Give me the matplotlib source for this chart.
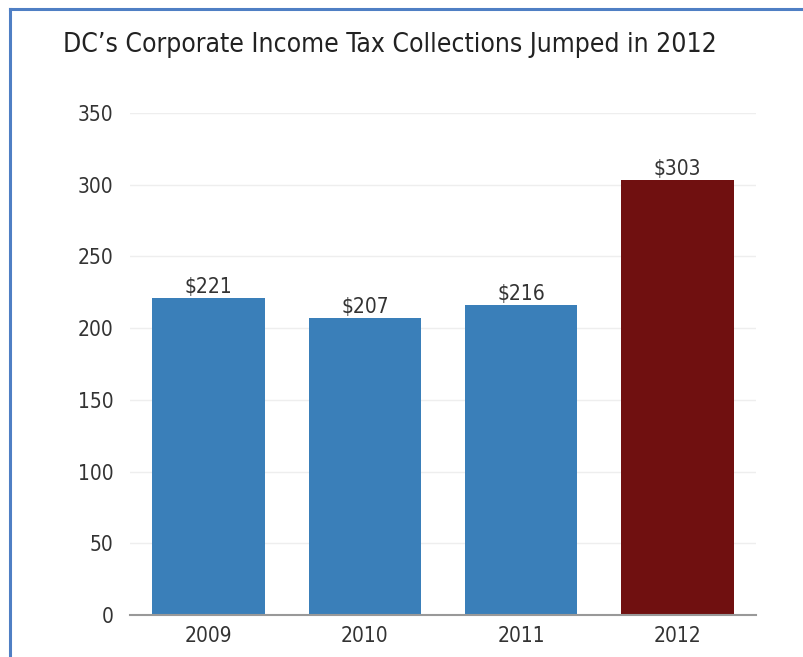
import matplotlib.pyplot as plt
from matplotlib.lines import Line2D
from matplotlib import font_manager

years = ['2009', '2010', '2011', '2012']
collections = [221, 207, 216, 303]
bar_colors = ['#3a7fb9', '#3a7fb9', '#3a7fb9', '#701010']
yticks = [0, 50, 100, 150, 200, 250, 300, 350]

plt.rcParams['font.family'] = ['DejaVu Sans']
plt.rcParams['font.stretch'] = 'condensed'
has_cond = any('Condensed' in f.fname or f.stretch == 'condensed'
               for f in font_manager.fontManager.ttflist if f.name == 'DejaVu Sans')
scale = 1.0 if has_cond else 0.85

fig = plt.figure(figsize=(8.04, 6.57), dpi=100)
ax = fig.add_axes([0.162, 0.064, 0.778, 0.764])

x = range(len(years))
bars = ax.bar(x, collections, width=0.72, color=bar_colors, zorder=2)
for b, v in zip(bars, collections):
    ax.text(b.get_x() + b.get_width() / 2, v + 1, '$' + str(v),
            ha='center', va='bottom', fontsize=15 * scale, color='#333333')

ax.set_xlim(-0.5, 3.5)
ax.set_ylim(0, 350)
ax.set_xticks(list(x))
ax.set_xticklabels(years, fontsize=15 * scale, color='#333333')
ax.set_yticks(yticks)
ax.set_yticklabels([str(t) for t in yticks], fontsize=15 * scale, color='#333333')
ax.tick_params(length=0, pad=12)
ax.tick_params(axis='x', pad=8)
ax.grid(axis='y', color='#eeeeee', linewidth=1, zorder=0)
for s in ['top', 'right', 'left']:
    ax.spines[s].set_visible(False)
ax.spines['bottom'].set_color('#999999')
ax.spines['bottom'].set_linewidth(1.5)

fig.text(0.485, 0.931, "DC\u2019s Corporate Income Tax Collections Jumped in 2012",
         ha='center', va='center', fontsize=19 * scale, color='#222222')

# blue frame on the left and top edges
fig.add_artist(Line2D([0.0125, 0.0125], [0, 0.986], color='#4f7fc4', linewidth=2.2))
fig.add_artist(Line2D([0.0125, 1.0], [0.986, 0.986], color='#4f7fc4', linewidth=2.2))

fig.savefig('out.png', dpi=100)
